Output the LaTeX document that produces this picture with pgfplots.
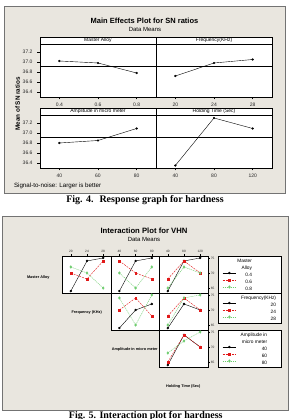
\documentclass[border=0pt]{standalone}
\usepackage{fontspec}
\setmainfont{Liberation Sans}
\newfontfamily\capfont{Liberation Serif}
\usepackage{pgfplots}
\pgfplotsset{compat=1.18}
\definecolor{bgc}{RGB}{233,230,223}
\definecolor{mred}{RGB}{225,25,25}
\definecolor{mgreen}{RGB}{110,205,110}
\newcommand{\fs}[1]{\fontsize{#1}{#1}\selectfont}

\pgfplotsset{
 me/.style={scale only axis, width=116pt, height=53pt, anchor=south west,
   ymin=36.3, ymax=37.36, axis line style={line width=0.45pt},
   axis background/.style={fill=white},
   tick align=outside, major tick length=2.5pt, tick style={black, line width=0.4pt},
   xtick pos=lower, ytick pos=left, ytick=\empty,
   ticklabel style={font=\fs{5}, text=black!85},
   /pgf/number format/assume math mode=true,
   xticklabel style={/pgf/number format/.cd, fixed, precision=1},
   clip=false},
 meleft/.style={ytick={36.4,36.6,36.8,37.0,37.2},
   yticklabel style={xshift=-1.5pt, /pgf/number format/.cd, fixed, fixed zerofill, precision=1}},
 mline/.style={black, line width=0.4pt, mark=*, mark size=0.9pt},
 refl/.style={black, line width=0.4pt, no marks},
 ia/.style={scale only axis, width=48.6pt, height=37pt, anchor=south west,
   ymin=63.35, ymax=75.65, xtick=\empty, ytick=\empty,
   axis line style={line width=0.55pt},
   axis background/.style={fill=white},
   tick align=outside, major tick length=1.5pt, tick style={black, line width=0.3pt},
   ticklabel style={font=\fs{3.2}, text=black!85, inner sep=0.8pt},
   /pgf/number format/assume math mode=true, clip=false,
   legend image code/.code={\draw[mark repeat=2,mark phase=2,##1] plot coordinates {(0pt,1.7pt)(6.7pt,1.7pt)(13.4pt,1.7pt)};},
   legend cell align=right,
   legend style={at={(1.2058,1)}, anchor=north west, draw=black, line width=0.45pt,
     fill=white, font=\fs{4.8}, inner xsep=4pt, inner ysep=1pt, column sep=0pt, row sep=0pt,
     nodes={inner xsep=1pt, inner ysep=0.5pt, text height=4.5pt, text depth=1.5pt}}},
 itop/.style={xtick pos=upper, xticklabel pos=upper, xticklabel style={yshift=0.8pt}},
 iright/.style={ytick={65,70,75}, ytick pos=upper, yticklabel pos=upper},
 s1/.style={black, solid, line width=0.4pt, mark=*, mark size=1pt, mark options={solid}},
 s2/.style={mred, dash pattern=on 2pt off 1pt, line width=0.4pt, mark=square*, mark size=0.9pt, mark options={solid}},
 s3/.style={mgreen, dash pattern=on 1.2pt off 0.8pt, line width=0.4pt, mark=diamond*, mark size=1.3pt, mark options={solid}},
}

\begin{document}
\begin{tikzpicture}[x=1pt,y=1pt]
\clip (0pt,0pt) rectangle (290pt,419pt);
\fill[white] (0pt,0pt) rectangle (290pt,419pt);

% ===================== Figure 4 =====================
\filldraw[fill=bgc, draw=black!55, line width=0.5pt] (4pt,226pt) rectangle (285pt,413pt);
\node[font=\bfseries\fs{7.5}] at (144.5pt,398.3pt) {Main Effects Plot for SN ratios};
\node[font=\fs{6}] at (145pt,390pt) {Data Means};
\node[font=\bfseries\fs{6.3}, rotate=90] at (17.5pt,315pt) {Mean of SN ratios};
\node[font=\fs{6.2}, anchor=west] at (10.5pt,233.3pt) {Signal-to-noise: Larger is better};

\begin{axis}[me, meleft, at={(40pt,322pt)}, xmin=0.3, xmax=0.9, xtick={0.4,0.6,0.8}]
\addplot[refl] coordinates {(0.3,36.92) (0.9,36.92)};
\addplot[mline] coordinates {(0.4,37.02) (0.6,36.98) (0.8,36.78)};
\end{axis}
\begin{axis}[me, at={(156pt,322pt)}, xmin=18, xmax=30, xtick={20,24,28}]
\addplot[refl] coordinates {(18,36.92) (30,36.92)};
\addplot[mline] coordinates {(20,36.72) (24,36.98) (28,37.05)};
\end{axis}
\begin{axis}[me, meleft, at={(40pt,251pt)}, xmin=30, xmax=90, xtick={40,60,80}]
\addplot[refl] coordinates {(30,36.91) (90,36.91)};
\addplot[mline] coordinates {(40,36.80) (60,36.85) (80,37.09)};
\end{axis}
\begin{axis}[me, at={(156pt,251pt)}, xmin=20, xmax=140, xtick={40,80,120}]
\addplot[refl] coordinates {(20,36.91) (140,36.91)};
\addplot[mline] coordinates {(40,36.35) (80,37.30) (120,37.09)};
\end{axis}
\draw[fill=white, line width=0.45pt] (40pt,375pt) rectangle (156pt,382pt);
\draw[fill=white, line width=0.45pt] (156pt,375pt) rectangle (272pt,382pt);
\draw[fill=white, line width=0.45pt] (40pt,304pt) rectangle (156pt,311pt);
\draw[fill=white, line width=0.45pt] (156pt,304pt) rectangle (272pt,311pt);
\node[font=\fs{5}] at (98pt,378.5pt) {Master Alloy};
\node[font=\fs{5}] at (214pt,378.5pt) {Frequency(KHz)};
\node[font=\fs{5}] at (98pt,307.5pt) {Amplitude in micro meter};
\node[font=\fs{5}] at (214pt,307.5pt) {Holding Time (Sec)};

\node[font=\capfont\bfseries\fs{10}, anchor=base] at (145pt,216.5pt) {Fig. 4.\hspace{6pt}Response graph for hardness};

% ===================== Figure 5 =====================
\filldraw[fill=bgc, draw=black!55, line width=0.5pt] (2pt,8.3pt) rectangle (288pt,202.3pt);
\node[font=\bfseries\fs{7.7}] at (144pt,188.3pt) {Interaction Plot for VHN};
\node[font=\fs{6}] at (144pt,179.7pt) {Data Means};

% row 1
\begin{axis}[ia, itop, at={(62.7pt,126pt)}, xmin=18, xmax=30, xtick={20,24,28}]
\addplot[s1] coordinates {(20,64) (24,74) (28,75)};
\addplot[s2] coordinates {(20,70) (24,68) (28,74)};
\addplot[s3] coordinates {(20,72) (24,70) (28,65)};
\end{axis}
\begin{axis}[ia, itop, at={(111.3pt,126pt)}, xmin=30, xmax=90, xtick={40,60,80}]
\addplot[s1] coordinates {(40,64) (60,74) (80,75)};
\addplot[s2] coordinates {(40,74) (60,70) (80,68)};
\addplot[s3] coordinates {(40,70) (60,65) (80,72)};
\end{axis}
\begin{axis}[ia, itop, iright, at={(159.7pt,126pt)}, xmin=20, xmax=140, xtick={40,80,120}]
\addlegendimage{empty legend}\addlegendentry{Master\hspace*{24.6pt}}
\addlegendimage{empty legend}\addlegendentry{Alloy\hspace*{24.6pt}}
\addplot[s1] coordinates {(40,64) (80,74) (120,75)};
\addlegendentry{0.4\hspace*{24.6pt}}
\addplot[s2] coordinates {(40,68) (80,74) (120,70)};
\addlegendentry{0.6\hspace*{24.6pt}}
\addplot[s3] coordinates {(40,65) (80,72) (120,70)};
\addlegendentry{0.8\hspace*{24.6pt}}
\end{axis}
% row 2
\begin{axis}[ia, at={(111.3pt,89pt)}, xmin=30, xmax=90]
\addplot[s1] coordinates {(40,64) (60,70) (80,72)};
\addplot[s2] coordinates {(40,70) (60,74) (80,68)};
\addplot[s3] coordinates {(40,74) (60,65) (80,75)};
\end{axis}
\begin{axis}[ia, iright, at={(159.7pt,89pt)}, xmin=20, xmax=140]
\addlegendimage{empty legend}\addlegendentry{\hspace*{3.8pt}Frequency(KHz)\hspace*{0.5pt}}
\addplot[s1] coordinates {(40,64) (80,72) (120,70)};
\addlegendentry{20\hspace*{0.5pt}}
\addplot[s2] coordinates {(40,68) (80,74) (120,70)};
\addlegendentry{24\hspace*{0.5pt}}
\addplot[s3] coordinates {(40,65) (80,74) (120,75)};
\addlegendentry{28\hspace*{0.5pt}}
\end{axis}
% row 3
\begin{axis}[ia, iright, at={(159.7pt,52pt)}, xmin=20, xmax=140]
\addlegendimage{empty legend}\addlegendentry{\hspace*{3.4pt}Amplitude in\hspace*{9.5pt}}
\addlegendimage{empty legend}\addlegendentry{micro meter\hspace*{9.5pt}}
\addplot[s1] coordinates {(40,64) (80,74) (120,70)};
\addlegendentry{40\hspace*{9.5pt}}
\addplot[s2] coordinates {(40,65) (80,74) (120,70)};
\addlegendentry{60\hspace*{9.5pt}}
\addplot[s3] coordinates {(40,68) (80,72) (120,75)};
\addlegendentry{80\hspace*{9.5pt}}
\end{axis}

\node[font=\bfseries\fs{3.8}] at (38.3pt,141.7pt) {Master Alloy};
\node[font=\bfseries\fs{3.8}] at (86.7pt,106pt) {Frequency (KHz)};
\node[font=\bfseries\fs{3.8}] at (134.7pt,69pt) {Amplitude in micro meter};
\node[font=\bfseries\fs{3.8}] at (183.3pt,32pt) {Holding Time (Sec)};

\node[font=\capfont\bfseries\fs{10}, anchor=base] at (145.8pt,1pt) {Fig. 5. Interaction plot for hardness};
\end{tikzpicture}
\end{document}
